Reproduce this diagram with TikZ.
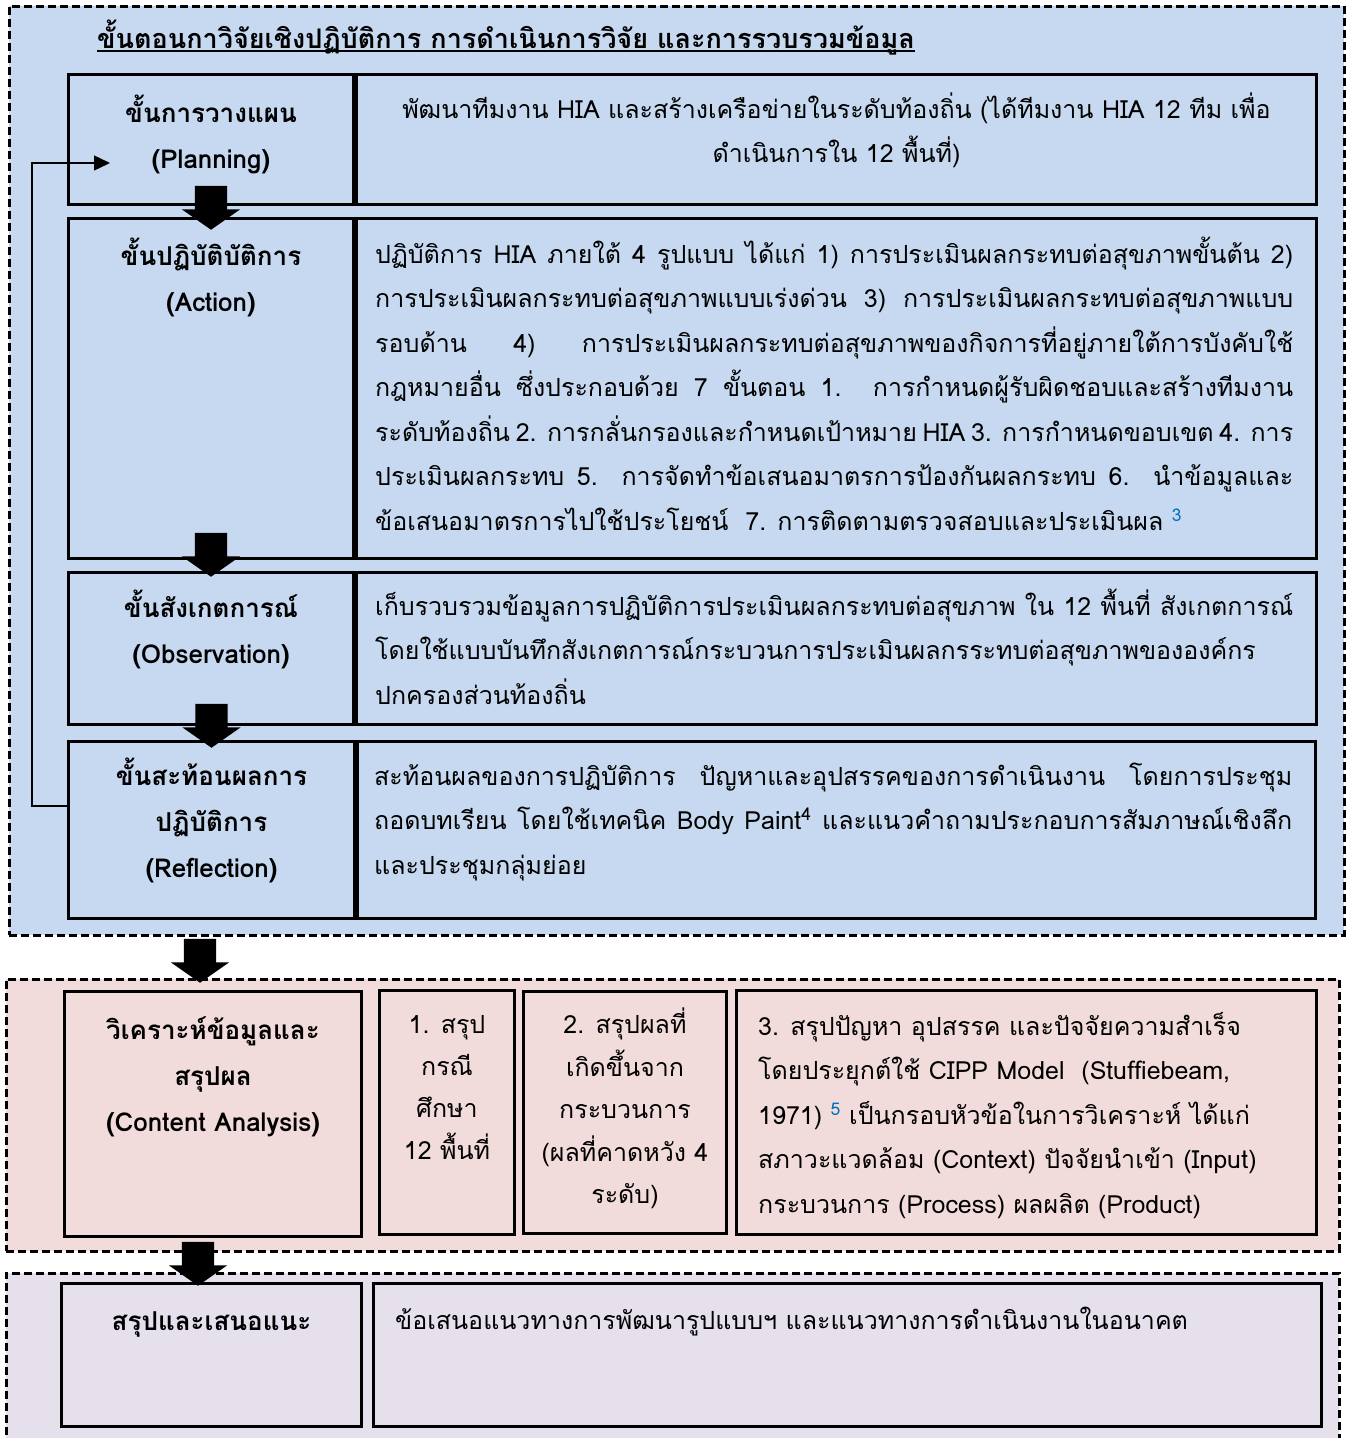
\documentclass[tikz,border=0pt]{standalone}
\usepackage{fontspec}
\setmainfont{Loma}[Script=Thai]
\usetikzlibrary{positioning,shapes.arrows,arrows.meta}

\definecolor{planblue}{RGB}{198,217,241}
\definecolor{anapink}{RGB}{242,220,219}
\definecolor{sumlilac}{RGB}{229,224,236}
\definecolor{notecol}{RGB}{0,112,192}

\newcommand{\jline}[1]{\makebox[918pt][s]{#1}}
\newcommand{\fnote}[1]{\textsuperscript{\color{notecol}#1}}

\tikzset{
  phase/.style={draw=black, line width=2.8pt, dash pattern=on 8pt off 4pt, inner sep=0pt, anchor=north west},
  cell/.style={draw=black, line width=3pt, inner sep=0pt, anchor=north west},
  headtxt/.style={font=\bfseries\fontsize{26}{46}\selectfont, align=center, inner sep=0pt, anchor=north},
  bodytxt/.style={font=\fontsize{25}{44.5}\selectfont, align=left, inner sep=0pt, anchor=north west},
  downarrow/.style={single arrow, fill=black, draw=none, shape border rotate=270, minimum height=44pt,
    single arrow head extend=13pt, single arrow tip angle=110, inner xsep=16pt, inner ysep=0pt, anchor=tip},
  looparrow/.style={line width=1.4pt, -{Triangle[length=16pt,width=15pt]}}
}

\begin{document}
\begin{tikzpicture}[x=1pt, y=-1pt]
\useasboundingbox (0,0) rectangle (1350,1438);

% research steps
\node[phase, fill=planblue, minimum width=1335pt, minimum height=929pt] (blueph) at (8,5) {};
\node[font=\bfseries\fontsize{27}{46}\selectfont, inner sep=0pt, anchor=base west] (ttl) at (97,48)
  {ขั้นตอนกาวิจัยเชิงปฏิบัติการ การดำเนินการวิจัย และการรวบรวมข้อมูล};
\draw[line width=1.6pt] ([yshift=-3pt]ttl.base west) -- ([yshift=-3pt]ttl.base east);

\node[cell, minimum width=285pt, minimum height=130pt] (planL) at (67,73) {};
\node[cell, minimum width=960pt, minimum height=130pt] (planR) at (planL.north east) {};
\node[cell, minimum width=285pt, minimum height=340pt] (actL) at (67,217) {};
\node[cell, minimum width=960pt, minimum height=340pt] (actR) at (actL.north east) {};
\node[cell, minimum width=285pt, minimum height=152pt] (obsL) at (67,571) {};
\node[cell, minimum width=960pt, minimum height=152pt] (obsR) at (obsL.north east) {};
\node[cell, minimum width=286pt, minimum height=177pt] (refL) at (67,740) {};
\node[cell, minimum width=958pt, minimum height=177pt] (refR) at (refL.north east) {};

\node[headtxt, below=17pt of planL.north] (planH) {\strut ขั้นการวางแผน\\(Planning)};
\node[bodytxt, align=center, anchor=north, below=14pt of planR.north] (planT)
  {\strut พัฒนาทีมงาน HIA และสร้างเครือข่ายในระดับท้องถิ่น (ได้ทีมงาน HIA 12 ทีม เพื่อ\\ดำเนินการใน 12 พื้นที่)};

\node[headtxt, below=16pt of actL.north] (actH) {\strut ขั้นปฏิบัติบัติการ\\(Action)};
\node[bodytxt, below right=15pt and 20pt of actR.north west] (actT)
  {\strut\jline{ปฏิบัติการ HIA ภายใต้ 4 รูปแบบ ได้แก่ 1) การประเมินผลกระทบต่อสุขภาพขั้นต้น 2)}\\
   \jline{การประเมินผลกระทบต่อสุขภาพแบบเร่งด่วน 3) การประเมินผลกระทบต่อสุขภาพแบบ}\\
   \jline{รอบด้าน 4) การประเมินผลกระทบต่อสุขภาพของกิจการที่อยู่ภายใต้การบังคับใช้}\\
   \jline{กฎหมายอื่น ซึ่งประกอบด้วย 7 ขั้นตอน 1. การกำหนดผู้รับผิดชอบและสร้างทีมงาน}\\
   \jline{ระดับท้องถิ่น 2. การกลั่นกรองและกำหนดเป้าหมาย HIA 3. การกำหนดขอบเขต 4. การ}\\
   \jline{ประเมินผลกระทบ 5. การจัดทำข้อเสนอมาตรการป้องกันผลกระทบ 6. นำข้อมูลและ}\\
   ข้อเสนอมาตรการไปใช้ประโยชน์~~7. การติดตามตรวจสอบและประเมินผล \fnote{3}};

\node[headtxt, below=14pt of obsL.north] (obsH) {\strut ขั้นสังเกตการณ์\\(Observation)};
\node[bodytxt, below right=13pt and 20pt of obsR.north west] (obsT)
  {\strut\jline{เก็บรวบรวมข้อมูลการปฏิบัติการประเมินผลกระทบต่อสุขภาพ ใน 12 พื้นที่ สังเกตการณ์}\\
   โดยใช้แบบบันทึกสังเกตการณ์กระบวนการประเมินผลกรระทบต่อสุขภาพขององค์กร\\
   ปกครองส่วนท้องถิ่น};

\node[headtxt, below=13pt of refL.north] (refH) {\strut ขั้นสะท้อนผลการ\\ปฏิบัติการ\\(Reflection)};
\node[bodytxt, below right=14pt and 18pt of refR.north west] (refT)
  {\strut\jline{สะท้อนผลของการปฏิบัติการ ปัญหาและอุปสรรคของการดำเนินงาน โดยการประชุม}\\
   \jline{ถอดบทเรียน โดยใช้เทคนิค Body Paint\textsuperscript{4} และแนวคำถามประกอบการสัมภาษณ์เชิงลึก}\\
   และประชุมกลุ่มย่อย};

\node[downarrow] (arr1) at ([yshift=-13pt]actL.north) {};
\node[downarrow] (arr2) at ([yshift=-6pt]obsL.north) {};
\node[downarrow] (arr3) at ([yshift=-8pt]refL.north) {};
\coordinate (back) at (110,163);
\draw[looparrow] ([yshift=24pt]refL.west) -- ++(-35,0) |- (back);

% analysis
\node[phase, fill=anapink, minimum width=1333pt, minimum height=272pt] (pinkph) at (5,978) {};
\node[cell, minimum width=297pt, minimum height=245pt] (caL) at (63,990) {};
\node[cell, minimum width=135pt, minimum height=244pt] (sumA) at (378,989) {};
\node[cell, minimum width=203pt, minimum height=242pt] (sumB) at (522,990) {};
\node[cell, minimum width=580pt, minimum height=244pt] (sumC) at (735,989) {};
\node[downarrow] (arr4) at (200,983) {};

\node[headtxt, below=17pt of caL.north] (caH) {\strut วิเคราะห์ข้อมูลและ\\สรุปผล\\(Content Analysis)};
\node[bodytxt, font=\fontsize{25}{42}\selectfont, align=center, anchor=north, below=15pt of sumA.north] (sumAT)
  {\strut 1. สรุป\\กรณี\\ศึกษา\\12 พื้นที่};
\node[bodytxt, font=\fontsize{25}{42.5}\selectfont, align=center, anchor=north, below=14pt of sumB.north] (sumBT)
  {\strut 2. สรุปผลที่\\เกิดขึ้นจาก\\กระบวนการ\\(ผลที่คาดหวัง 4\\ระดับ)};
\node[bodytxt, below right=15pt and 23pt of sumC.north west] (sumCT)
  {\strut 3. สรุปปัญหา อุปสรรค และปัจจัยความสำเร็จ\\
   โดยประยุกต์ใช้ CIPP Model~~(Stuffiebeam,\\
   1971) \fnote{5} เป็นกรอบหัวข้อในการวิเคราะห์ ได้แก่\\
   สภาวะแวดล้อม (Context) ปัจจัยนำเข้า (Input)\\
   กระบวนการ (Process) ผลผลิต (Product)};

% conclusion
\node[phase, fill=sumlilac, minimum width=1333pt, minimum height=180pt] (lilph) at (5,1272) {};
\node[cell, minimum width=300pt, minimum height=143pt] (endL) at (60,1282) {};
\node[cell, minimum width=948pt, minimum height=143pt] (endR) at (372,1282) {};
\node[downarrow] (arr5) at (198,1286) {};

\node[headtxt, below=16pt of endL.north] (endH) {\strut สรุปและเสนอแนะ};
\node[bodytxt, below right=16pt and 23pt of endR.north west] (endT)
  {\strut ข้อเสนอแนวทางการพัฒนารูปแบบฯ และแนวทางการดำเนินงานในอนาคต};
\end{tikzpicture}
\end{document}
